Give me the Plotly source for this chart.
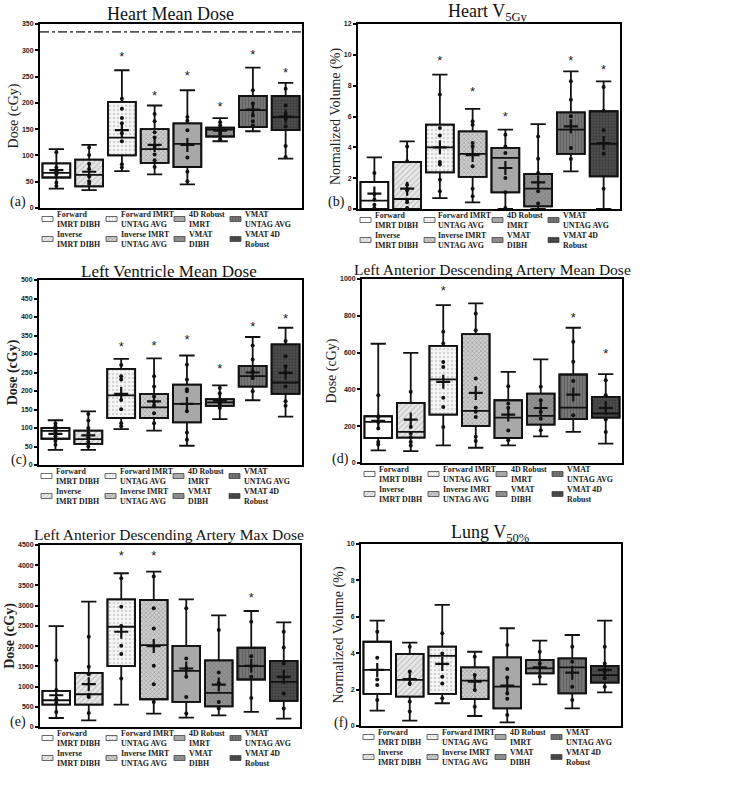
import plotly.graph_objects as go

W, H = 750, 788

CATEGORIES = ["Forward IMRT DIBH", "Inverse IMRT DIBH", "Forward IMRT UNTAG AVG",
              "Inverse IMRT UNTAG AVG", "4D Robust IMRT", "VMAT DIBH",
              "VMAT UNTAG AVG", "VMAT 4D Robust"]
LEGEND_LABELS = ["Forward<br>IMRT DIBH", "Inverse<br>IMRT DIBH", "Forward IMRT<br>UNTAG AVG",
                 "Inverse IMRT<br>UNTAG AVG", "4D Robust<br>IMRT", "VMAT<br>DIBH",
                 "VMAT<br>UNTAG AVG", "VMAT 4D<br>Robust"]

# ---------------- (a) Heart Mean Dose (cGy) ----------------
a_lower = [37, 34, 70, 64, 45, 127, 146, 94]
a_q1 = [58, 41, 100, 86, 78, 136, 154, 148]
a_med = [67, 63, 134, 112, 122, 149, 186, 173]
a_q3 = [85, 92, 202, 150, 161, 153, 213, 213]
a_upper = [112, 120, 262, 195, 224, 171, 267, 238]
a_mean = [72, 69, 148, 120, 120, 147, 187, 174]
a_star = [None, None, 285, 211, 250, 191, 289, 255]
a_points = [[106, 77, 70, 64, 48, 42], [115, 101, 84, 74, 60, 51, 46],
            [208, 189, 171, 161, 142, 127, 83, 77], [179, 165, 144, 134, 116, 102, 91, 78],
            [173, 166, 148, 96, 69, 51], [163, 157, 146, 141, 131],
            [224, 199, 176, 165, 157], [227, 195, 179, 170, 155, 118, 97]]
a_limit = 335

# ---------------- (b) Heart V5Gy (%) ----------------
b_lower = [0, 0, 0.71, 0.43, 0, 0, 2.44, 0]
b_q1 = [0, 0, 2.38, 2.08, 1.08, 0.17, 3.57, 2.12]
b_med = [0.54, 0.65, 4.0, 3.57, 3.31, 1.32, 5.15, 4.22]
b_q3 = [1.75, 3.05, 5.47, 5.04, 3.96, 2.27, 6.27, 6.34]
b_upper = [3.35, 4.39, 8.71, 6.5, 5.15, 5.51, 8.93, 8.28]
b_mean = [1.0, 1.32, 4.0, 3.5, 2.66, 1.73, 5.36, 4.28]
b_star = [None, None, 9.58, 7.52, 5.95, None, 9.58, 8.97]
b_points = [[2.33, 0.97, 0.6, 0.28, 0.06], [4.06, 3.09, 1.58, 1.21, 0.6, 0.43, 0.06],
            [7.42, 5.25, 4.76, 3.05, 2.88, 1.9, 1.15], [5.69, 5.47, 4.28, 4.06, 2.77, 1.32, 0.82],
            [4.82, 4.06, 3.63, 2.01, 1.08, 0.06], [4.71, 3.26, 2.33, 1.15, 0.35],
            [8.28, 7.09, 6.01, 3.96, 3.24], [7.91, 6.38, 5.1, 3.59, 1.32]]

# ---------------- (c) Left Ventricle Mean Dose (cGy) ----------------
c_lower = [41, 41, 97, 93, 52, 124, 175, 131]
c_q1 = [71, 57, 127, 127, 115, 160, 212, 192]
c_med = [92, 70, 188, 156, 165, 169, 240, 223]
c_q3 = [100, 93, 260, 192, 217, 178, 268, 326]
c_upper = [121, 145, 287, 288, 296, 215, 346, 371]
c_mean = [84, 80, 192, 172, 165, 174, 250, 249]
c_star = [None, None, 316, 319, 335, 258, 371, 393]
c_points = [[112, 104, 95, 88, 78, 65, 55], [138, 120, 100, 85, 75, 62, 50],
            [270, 240, 231, 176, 151, 113, 105], [240, 212, 185, 170, 160, 140, 113],
            [271, 231, 205, 199, 145, 88, 68], [208, 194, 172, 165, 154],
            [323, 285, 253, 250, 235, 199], [335, 294, 267, 250, 212, 172, 160]]

# ---------------- (d) LAD Mean Dose (cGy) ----------------
d_lower = [69, 65, 96, 83, 96, 145, 169, 105]
d_q1 = [136, 138, 263, 200, 136, 209, 238, 247]
d_med = [223, 169, 454, 283, 247, 256, 301, 269]
d_q3 = [254, 327, 637, 700, 341, 377, 481, 359]
d_upper = [648, 599, 858, 867, 495, 563, 735, 483]
d_mean = [229, 236, 441, 381, 263, 299, 372, 299]
d_star = [None, None, 931, None, None, None, 786, 586]
d_points = [[368, 250, 223, 187, 114, 100], [387, 196, 160, 140, 114, 95],
            [713, 650, 549, 522, 354, 305, 196], [813, 722, 459, 300, 278, 250, 142, 120],
            [417, 323, 300, 176, 123], [414, 341, 278, 240, 178],
            [659, 550, 446, 260], [450, 368, 236, 169]]

# ---------------- (e) LAD Max Dose (cGy) ----------------
e_lower = [223, 165, 553, 331, 231, 289, 372, 207]
e_q1 = [553, 553, 1504, 686, 620, 512, 1174, 645]
e_med = [661, 810, 2479, 2025, 1388, 843, 1504, 1116]
e_q3 = [892, 1339, 3157, 3140, 2008, 1645, 1959, 1636]
e_upper = [2496, 3099, 3802, 3843, 3157, 2760, 2868, 2587]
e_mean = [785, 1058, 2355, 2000, 1446, 1050, 1512, 1240]
e_star = [None, None, 4215, 4215, None, None, 3165, None]
e_points = [[1653, 909, 700, 600, 372], [2231, 1488, 1306, 800, 744, 347],
            [3678, 2975, 2500, 2008, 1802, 1198], [3719, 2934, 2438, 1512, 1058, 620],
            [2934, 1694, 1450, 1240, 744, 331], [2397, 1347, 1091, 620, 455],
            [2603, 1752, 1500, 1240, 719], [2355, 1967, 1570, 826, 455]]

# ---------------- (f) Lung V50% (%) ----------------
f_lower = [0.84, 0.29, 1.25, 0.55, 0.2, 2.29, 0.97, 1.85]
f_q1 = [1.76, 1.61, 1.76, 1.48, 0.97, 2.89, 1.79, 2.38]
f_med = [3.08, 2.53, 3.85, 2.49, 2.16, 3.17, 3.22, 2.8]
f_q3 = [4.63, 3.96, 4.36, 3.22, 3.77, 3.63, 3.72, 3.3]
f_upper = [5.79, 4.58, 6.65, 4.08, 5.37, 4.69, 5.0, 5.79]
f_mean = [3.08, 2.58, 3.41, 2.44, 2.22, 3.22, 2.93, 3.08]
f_star = [None] * 8
f_points = [[5.18, 3.75, 2.56, 2.25, 1.43], [4.36, 2.99, 2.34, 1.34, 0.79],
            [5.09, 3.99, 2.71, 2.34, 1.52], [3.81, 2.8, 1.98, 1.06],
            [4.45, 3.13, 2.67, 1.79, 1.5, 0.6], [4.08, 3.44, 2.71],
            [4.36, 3.53, 2.16, 1.43], [4.36, 3.44, 2.99, 2.62, 2.16]]

# ---------------- styles ----------------
STYLES = [
    dict(bg="#ffffff", shape="", fg="#ffffff", size=4, sol=0.2),
    dict(bg="#e8e8e8", shape="/", fg="#8a8a8a", size=4, sol=0.25),
    dict(bg="#f4f4f4", shape=".", fg="#9a9a9a", size=4, sol=0.2),
    dict(bg="#d0d0d0", shape="x", fg="#6a6a6a", size=3, sol=0.4),
    dict(bg="#a8a8a8", shape="", fg="#a8a8a8", size=4, sol=0.2),
    dict(bg="#959595", shape="x", fg="#555555", size=3, sol=0.35),
    dict(bg="#767676", shape="|", fg="#4a4a4a", size=3, sol=0.35),
    dict(bg="#505050", shape=".", fg="#262626", size=3, sol=0.45),
]

SERIF = "Liberation Serif, Times New Roman, serif"
SANS = "Liberation Sans, Arial, sans-serif"

# panel geometry in pixels: left, right, top, bottom
PANELS = [
    dict(title="Heart Mean Dose", tx=170, ty=14, tsize=18, ytitle="Dose (cGy)", ybold=False,
         box=(40, 302, 24, 208), yr=350, dtick=50, label="(a)", lab=(28, 202),
         data=(a_lower, a_q1, a_med, a_q3, a_upper, a_mean, a_star, a_points)),
    dict(title="Heart V<sub>5Gy</sub>", tx=488, ty=12, tsize=18, ytitle="Normalized Volume (%)", ybold=False,
         box=(358, 620, 24, 209), yr=12, dtick=2, label="(b)", lab=(347, 202),
         data=(b_lower, b_q1, b_med, b_q3, b_upper, b_mean, b_star, b_points)),
    dict(title="Left Ventricle Mean Dose", tx=169, ty=272, tsize=17, ytitle="Dose (cGy)", ybold=True,
         box=(39, 302, 280, 465), yr=500, dtick=50, label="(c)", lab=(29, 460),
         data=(c_lower, c_q1, c_med, c_q3, c_upper, c_mean, c_star, c_points)),
    dict(title="Left Anterior Descending Artery Mean Dose", tx=492, ty=269, tsize=15.5,
         ytitle="Dose (cGy)", ybold=False,
         box=(362, 622, 279, 463), yr=1000, dtick=200, label="(d)", lab=(351, 459),
         data=(d_lower, d_q1, d_med, d_q3, d_upper, d_mean, d_star, d_points)),
    dict(title="Left Anterior Descending Artery Max Dose", tx=169, ty=534, tsize=15.5,
         ytitle="Dose (cGy)", ybold=True,
         box=(40, 300, 545, 727), yr=4500, dtick=500, label="(e)", lab=(28, 722),
         data=(e_lower, e_q1, e_med, e_q3, e_upper, e_mean, e_star, e_points)),
    dict(title="Lung V<sub>50%</sub>", tx=490, ty=533, tsize=18, ytitle="Normalized Volume (%)", ybold=False,
         box=(361, 621, 544, 726), yr=10, dtick=2, label="(f)", lab=(350, 723),
         data=(f_lower, f_q1, f_med, f_q3, f_upper, f_mean, f_star, f_points)),
]

LEG_COL = [2, 66, 134, 190]
LEG_ROW = [11, 31]
SW_W, SW_H = 11, 5
BOX_W = 0.85


def px(x):
    return x / W


def py(y):
    return 1 - y / H


fig = go.Figure()
layout = dict(width=W, height=H, margin=dict(l=0, r=0, t=0, b=0),
              paper_bgcolor="white", plot_bgcolor="rgba(0,0,0,0)", showlegend=False,
              barmode="overlay", boxmode="overlay")
annotations = []
shapes = []

for i, p in enumerate(PANELS):
    n = i + 1
    xa = "x" if n == 1 else f"x{n}"
    ya = "y" if n == 1 else f"y{n}"
    xkey = "xaxis" if n == 1 else f"xaxis{n}"
    ykey = "yaxis" if n == 1 else f"yaxis{n}"
    l, r, t, b = p["box"]
    lower, q1, med, q3, upper, mean, star, points = p["data"]

    layout[xkey] = dict(domain=[px(l), px(r)], anchor=ya, type="category",
                        categoryorder="array", categoryarray=CATEGORIES,
                        range=[-0.5, 7.5], showticklabels=False, ticks="",
                        showline=True, linecolor="black", linewidth=2, mirror=True,
                        showgrid=False, zeroline=False, fixedrange=True)
    layout[ykey] = dict(domain=[py(b), py(t)], anchor=xa, range=[0, p["yr"]], dtick=p["dtick"],
                        showline=True, linecolor="black", linewidth=2, mirror=True,
                        ticks="outside", ticklen=3, tickwidth=1.5, tickcolor="black",
                        tickfont=dict(family=SANS, size=7, color="#222", weight="bold"),
                        showgrid=False, zeroline=False, automargin=False, fixedrange=True,
                        title=dict(text=p["ytitle"], standoff=0,
                                   font=dict(family=SERIF, size=14, color="#222",
                                             weight="bold" if p["ybold"] else "normal")))

    # box bodies with patterns
    for g in range(8):
        s = STYLES[g]
        fig.add_trace(go.Bar(
            x=[CATEGORIES[g]], y=[q3[g] - q1[g]], base=[q1[g]], width=BOX_W,
            xaxis=xa, yaxis=ya, hoverinfo="skip",
            marker=dict(color=s["bg"], line=dict(color="#1a1a1a", width=1.8),
                        pattern=dict(shape=s["shape"], fgcolor=s["fg"], bgcolor=s["bg"],
                                     size=s["size"], solidity=s["sol"]))))

    # whiskers, caps, medians
    fig.add_trace(go.Box(
        x=CATEGORIES, q1=q1, median=med, q3=q3, lowerfence=lower, upperfence=upper,
        width=BOX_W, whiskerwidth=0.55, xaxis=xa, yaxis=ya,
        fillcolor="rgba(0,0,0,0)", line=dict(color="#111", width=1.8), hoverinfo="skip"))

    # individual points
    px_list, py_list = [], []
    for g in range(8):
        for v in points[g]:
            px_list.append(CATEGORIES[g])
            py_list.append(v)
    fig.add_trace(go.Scatter(x=px_list, y=py_list, mode="markers", xaxis=xa, yaxis=ya,
                             marker=dict(color="#111", size=4), hoverinfo="skip"))

    # means
    fig.add_trace(go.Scatter(x=CATEGORIES, y=mean, mode="markers", xaxis=xa, yaxis=ya,
                             marker=dict(symbol="cross-thin", size=10, color="#111",
                                         line=dict(color="#111", width=2.2)),
                             hoverinfo="skip"))

    # significance stars
    sx = [CATEGORIES[g] for g in range(8) if star[g] is not None]
    sy = [star[g] for g in range(8) if star[g] is not None]
    if sx:
        fig.add_trace(go.Scatter(x=sx, y=sy, mode="text", text=["*"] * len(sx),
                                 textposition="middle center", xaxis=xa, yaxis=ya,
                                 textfont=dict(family=SANS, size=13, color="#222"),
                                 hoverinfo="skip"))

    # title
    annotations.append(dict(text=p["title"], x=px(p["tx"]), y=py(p["ty"]), xref="paper", yref="paper",
                            xanchor="center", yanchor="middle", showarrow=False,
                            font=dict(family=SERIF, size=p["tsize"], color="#111")))
    # panel label
    annotations.append(dict(text=p["label"], x=px(p["lab"][0]), y=py(p["lab"][1]), xref="paper",
                            yref="paper", xanchor="right", yanchor="middle", showarrow=False,
                            font=dict(family=SERIF, size=14, color="#111")))
    # legend texts
    for g in range(8):
        col, row = g // 2, g % 2
        x0 = l + LEG_COL[col]
        yc = b + LEG_ROW[row]
        annotations.append(dict(text=LEGEND_LABELS[g], x=px(x0 + SW_W + 1.5), y=py(yc),
                                xref="paper", yref="paper", xanchor="left", yanchor="middle",
                                align="left", showarrow=False,
                                font=dict(family=SERIF, size=7.9, color="#222", weight="bold")))

# heart mean dose constraint line
shapes.append(dict(type="line", xref="x domain", yref="y", x0=0, x1=1, y0=a_limit, y1=a_limit,
                   line=dict(color="#555", width=1.8, dash="dashdot")))

# legend swatches on a full-figure pixel overlay
layout["xaxis7"] = dict(domain=[0, 1], anchor="y7", range=[0, W], visible=False, fixedrange=True)
layout["yaxis7"] = dict(domain=[0, 1], anchor="x7", range=[H, 0], visible=False, fixedrange=True)
for g in range(8):
    s = STYLES[g]
    xs, ys = [], []
    col, row = g // 2, g % 2
    for p in PANELS:
        l, r, t, b = p["box"]
        x0 = l + LEG_COL[col]
        yc = b + LEG_ROW[row]
        xs += [x0, x0 + SW_W, x0 + SW_W, x0, x0, None]
        ys += [yc - SW_H / 2, yc - SW_H / 2, yc + SW_H / 2, yc + SW_H / 2, yc - SW_H / 2, None]
    fig.add_trace(go.Scatter(x=xs, y=ys, xaxis="x7", yaxis="y7", mode="lines", fill="toself",
                             fillcolor=s["bg"], line=dict(color="#444", width=0.8),
                             fillpattern=dict(shape=s["shape"], fgcolor=s["fg"], bgcolor=s["bg"],
                                              size=3, solidity=s["sol"]),
                             hoverinfo="skip"))

layout["annotations"] = annotations
layout["shapes"] = shapes
fig.update_layout(**layout)
fig.write_html("out.html", config={"displayModeBar": False},
               post_script="document.body.style.margin='0px';")
